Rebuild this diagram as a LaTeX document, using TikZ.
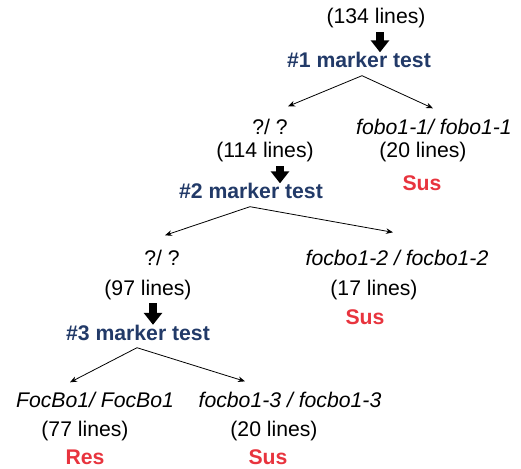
\documentclass[tikz,border=0pt]{standalone}
\usepackage{fontspec}
\setmainfont{Liberation Sans}
\usetikzlibrary{arrows.meta}
\definecolor{testblue}{RGB}{34,58,104}
\definecolor{susred}{RGB}{232,52,62}

\begin{document}
\begin{tikzpicture}[x=0.5pt,y=-0.5pt,
    lbl/.style={inner sep=0pt,font=\fontsize{10.6}{12}\selectfont},
    geno/.style={inner sep=0pt,font=\fontsize{10.6}{12}\selectfont\itshape},
    test/.style={inner sep=0pt,font=\fontsize{10.6}{12}\selectfont\bfseries,text=testblue},
    call/.style={inner sep=0pt,font=\fontsize{10.6}{12}\selectfont\bfseries,text=susred},
    down/.style={line width=4pt,-{Triangle[width=9pt,length=6pt]}},
    split/.style={line width=0.4pt,-{Stealth[length=3.5pt,width=2.8pt]}}]
    \useasboundingbox (0,0) rectangle (521,468);
    % first test
    \node[lbl] (n0) at (376,18) {(134 lines)};
    \node[test] (m1) at (359,60) {\#1 marker test};
    \node[lbl] (q1) at (270,127) {?/ ?};
    \node[lbl] (n1) at (265,152) {(114 lines)};
    \node[geno] (g1) at (434,127) {fobo1-1/ fobo1-1};
    \node[lbl] (c1) at (423,152) {(20 lines)};
    \node[call] (s1) at (422,183) {Sus};
    % second test
    \node[test] (m2) at (251,191) {\#2 marker test};
    \node[lbl] (q2) at (162,258) {?/ ?};
    \node[lbl] (n2) at (148,290) {(97 lines)};
    \node[geno] (g2) at (397,258) {focbo1-2 / focbo1-2};
    \node[lbl] (c2) at (374,290) {(17 lines)};
    \node[call] (s2) at (365,317) {Sus};
    % third test
    \node[test] (m3) at (138,333) {\#3 marker test};
    \node[geno] (g3) at (95,400) {FocBo1/ FocBo1};
    \node[lbl] (n3) at (85,431) {(77 lines)};
    \node[call] (r3) at (85,457) {Res};
    \node[geno] (g4) at (290,400) {focbo1-3 / focbo1-3};
    \node[lbl] (c4) at (274,431) {(20 lines)};
    \node[call] (s4) at (268,457) {Sus};

    \draw[down] ([shift={(4,4)}]n0.south) -- ([shift={(21,0.5)}]m1.north);
    \draw[down] ([shift={(15,4)}]n1.south) -- ([shift={(29,0.5)}]m2.north);
    \draw[down] ([shift={(5,3)}]n2.south) -- ([shift={(15,0)}]m3.north);

    \draw[split] ([shift={(3,7.5)}]m1.south) -- ([shift={(18,-12.5)}]q1.north);
    \draw[split] ([shift={(3,7.5)}]m1.south) -- ([shift={(-1,-10.5)}]g1.north);
    \draw[split] ([shift={(-1,7.5)}]m2.south) -- ([shift={(3,-14.5)}]q2.north);
    \draw[split] ([shift={(-1,7.5)}]m2.south) -- ([shift={(-4,-17.5)}]g2.north);
    \draw[split] ([shift={(-1,6.5)}]m3.south) -- ([shift={(-25,-9.5)}]g3.north);
    \draw[split] ([shift={(-1,6.5)}]m3.south) -- ([shift={(-45,-10.5)}]g4.north);
\end{tikzpicture}
\end{document}
